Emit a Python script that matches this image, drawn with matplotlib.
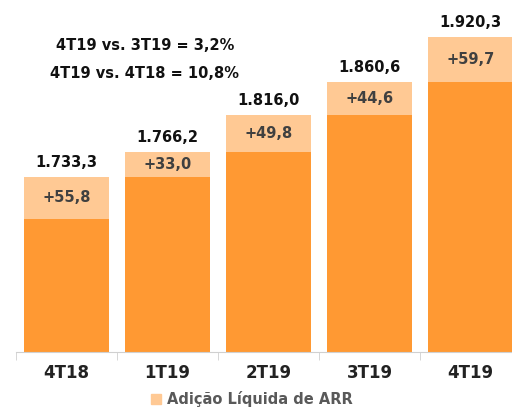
import matplotlib
matplotlib.use("Agg")
import matplotlib.pyplot as plt
from matplotlib.patches import Patch

categories = ["4T18", "1T19", "2T19", "3T19", "4T19"]
totals = [1733.3, 1766.2, 1816.0, 1860.6, 1920.3]
additions = [55.8, 33.0, 49.8, 44.6, 59.7]
total_labels = ["1.733,3", "1.766,2", "1.816,0", "1.860,6", "1.920,3"]
add_labels = ["+55,8", "+33,0", "+49,8", "+44,6", "+59,7"]
base = [t - a for t, a in zip(totals, additions)]

dark = "#FF9933"
light = "#FFC994"

W, H = 512, 407
fig = plt.figure(figsize=(W / 100, H / 100), dpi=100)
ax = fig.add_axes([16 / W, (H - 352) / H, 505 / W, 352 / H])
ymin = 1500
ax.set_ylim(ymin, ymin + 352 / 0.75)
ax.set_xlim(-0.5, 4.5)

x = list(range(len(categories)))
ax.bar(x, [b - ymin for b in base], bottom=ymin, width=0.84, color=dark, linewidth=0)
ax.bar(x, additions, bottom=base, width=0.84, color=light, linewidth=0)

for i in x:
    ax.annotate(total_labels[i], (i, totals[i]), xytext=(0, 5), textcoords="offset points",
                ha="center", va="bottom", fontsize=10.5, fontweight="bold", color="#111111")
    ax.text(i, base[i] + additions[i] / 2, add_labels[i], ha="center", va="center",
            fontsize=10.5, fontweight="bold", color="#404040")

for s in ["top", "right", "left"]:
    ax.spines[s].set_visible(False)
ax.spines["bottom"].set_color("#D0D0D0")
ax.set_yticks([])
ax.set_xticks(x)
ax.set_xticklabels(categories, fontsize=12, fontweight="bold", color="#222222")
ax.tick_params(axis="x", length=0, pad=9)
ax.set_xticks([-0.5, 0.5, 1.5, 2.5, 3.5], minor=True)
ax.tick_params(axis="x", which="minor", length=6, color="#D0D0D0")

fig.text(145 / W, 1 - 45 / H, "4T19 vs. 3T19 = 3,2%", ha="center", va="center",
         fontsize=10.5, fontweight="bold", color="#111111")
fig.text(145 / W, 1 - 73 / H, "4T19 vs. 4T18 = 10,8%", ha="center", va="center",
         fontsize=10.5, fontweight="bold", color="#111111")

leg = fig.legend(handles=[Patch(color=light, label="Adição Líquida de ARR")],
                 loc="center", bbox_to_anchor=(252 / W, 1 - 399 / H), frameon=False,
                 prop={"size": 10.5, "weight": "bold"}, handlelength=0.7, handleheight=0.7,
                 handletextpad=0.4, borderpad=0)
for t in leg.get_texts():
    t.set_color("#595959")

fig.savefig("out.png", dpi=100)
